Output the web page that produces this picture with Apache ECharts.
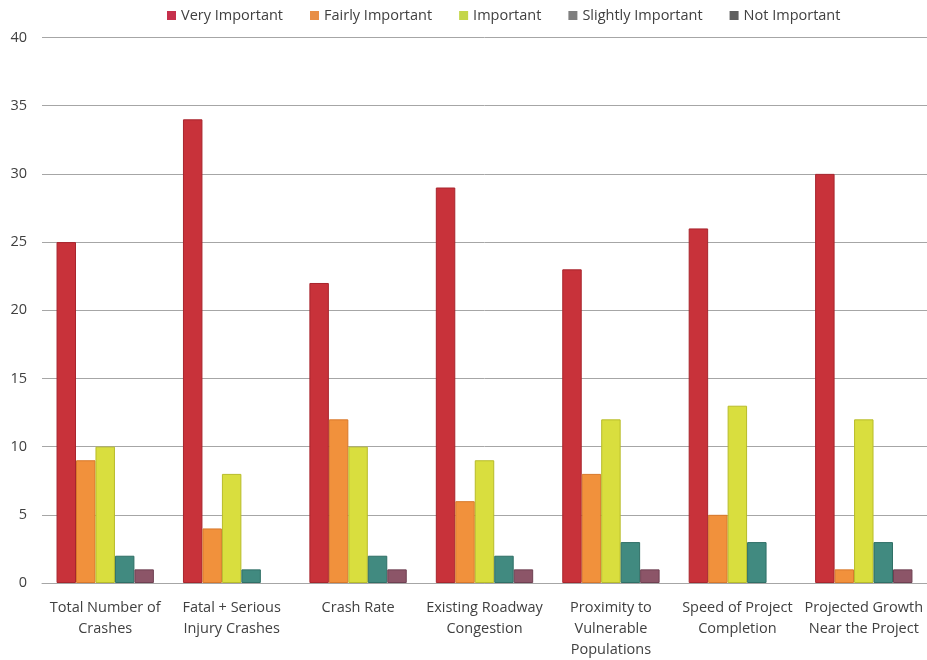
<!DOCTYPE html>
<html>
<head>
<meta charset="utf-8">
<script src="https://cdn.jsdelivr.net/npm/echarts@6/dist/echarts.min.js"></script>
<style>
  html, body { margin: 0; padding: 0; background: #fff; overflow: hidden; }
  #chart { width: 927px; height: 660px; }
</style>
</head>
<body>
<div id="chart"></div>
<script>
// Survey results: importance ratings per prioritization factor
const categories = [
  'Total Number of\nCrashes',
  'Fatal + Serious\nInjury Crashes',
  'Crash Rate',
  'Existing Roadway\nCongestion',
  'Proximity to\nVulnerable\nPopulations',
  'Speed of Project\nCompletion',
  'Projected Growth\nNear the Project'
];
const veryImportant     = [25, 34, 22, 29, 23, 26, 30];
const fairlyImportant   = [9, 4, 12, 6, 8, 5, 1];
const important         = [10, 8, 10, 9, 12, 13, 12];
const slightlyImportant = [2, 1, 2, 2, 3, 3, 3];
const notImportant      = [1, 0, 1, 1, 1, 0, 1];
const yTicks = [0, 5, 10, 15, 20, 25, 30, 35, 40];

// bar fill / outline, plus the swatch colour shown in the legend
const seriesDefs = [
  { name: 'Very Important',     data: veryImportant,     color: '#c8323a', border: '#a8252d', legend: '#c6304c' },
  { name: 'Fairly Important',   data: fairlyImportant,   color: '#f1913c', border: '#d8782a', legend: '#e88f48' },
  { name: 'Important',          data: important,         color: '#d9de3e', border: '#b8bc2a', legend: '#c4d64a' },
  { name: 'Slightly Important', data: slightlyImportant, color: '#418a80', border: '#2f6f66', legend: '#7f7f7f' },
  { name: 'Not Important',      data: notImportant,      color: '#8c5568', border: '#6f4052', legend: '#5f5f5f' }
];

const font = '"Open Sans", sans-serif';
const chart = echarts.init(document.getElementById('chart'));
chart.setOption({
  animation: false,
  textStyle: { fontFamily: font },
  legend: {
    top: 3,
    left: 162,
    itemWidth: 9,
    itemHeight: 9,
    itemGap: 27,
    icon: 'rect',
    textStyle: { fontFamily: font, fontSize: 14.5, color: '#404040' },
    data: seriesDefs.map(s => s.name)
  },
  grid: { left: 42, right: 0, top: 37.5, bottom: 71 },
  xAxis: {
    type: 'category',
    data: categories,
    axisTick: { show: false },
    axisLine: { lineStyle: { color: '#a6a6a6' } },
    axisLabel: { fontFamily: font, fontSize: 14.5, color: '#404040', lineHeight: 21, margin: 14, interval: 0 }
  },
  yAxis: {
    type: 'value',
    min: yTicks[0],
    max: yTicks[yTicks.length - 1],
    interval: 5,
    axisLine: { show: false },
    axisTick: { show: false },
    axisLabel: { fontFamily: font, fontSize: 14.5, color: '#404040', margin: 15 },
    splitLine: { lineStyle: { color: '#a6a6a6' } }
  },
  series: seriesDefs.map(s => ({
    name: s.name,
    type: 'bar',
    // series colour drives the legend swatch; each bar carries its own fill
    itemStyle: { color: s.legend },
    data: s.data.map(v => ({
      value: v,
      itemStyle: { color: s.color, borderColor: s.border, borderWidth: v > 0 ? 1 : 0 }
    })),
    barGap: '0%',
    barCategoryGap: '23%'
  }))
});
</script>
</body>
</html>
